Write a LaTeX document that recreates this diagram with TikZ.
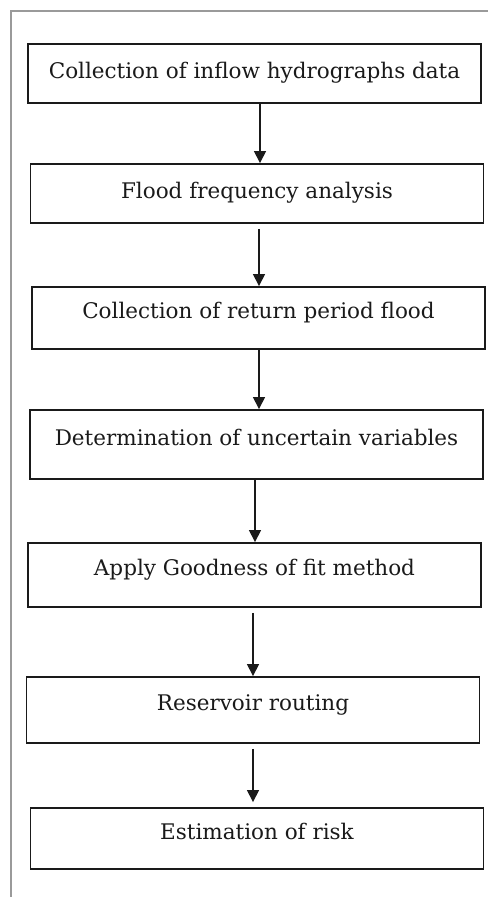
\documentclass[tikz,border=0pt]{standalone}
\usepackage{fontspec}
\setmainfont{DejaVu Serif}
\usetikzlibrary{arrows.meta}
\definecolor{framegray}{HTML}{9A9A9A}
\definecolor{ink}{HTML}{1A1A1A}
\tikzset{
  stepbox/.style={draw=ink, line width=1.9pt, rectangle, inner sep=0pt,
    minimum width=453pt, text=ink, font=\fontsize{21.5}{24}\selectfont,
    text height=14pt, text depth=4pt},
  raised/.style={text depth=13pt},
  flowarrow/.style={draw=ink, line width=1.5pt, -{Triangle[width=12pt,length=12pt]}},
  frameline/.style={draw=framegray, line width=1.6pt}
}
\begin{document}
\begin{tikzpicture}[x=1pt,y=-1pt]
\useasboundingbox (0,0) rectangle (488,897);
\fill[white] (0,0) rectangle (488,897);
\coordinate (fb) at (11,897);
\coordinate (fc) at (11,11);
\coordinate (fr) at (488,11);
\draw[frameline] (fb) -- (fc) -- (fr);

\node[stepbox, minimum height=59pt] (b1) at (254.5,73.5) {Collection of inflow hydrographs data};
\node[stepbox, minimum height=59pt] (b2) at (257,193.5) {Flood frequency analysis};
\node[stepbox, raised, minimum height=62pt] (b3) at (258.5,318) {Collection of return period flood};
\node[stepbox, raised, minimum height=69pt] (b4) at (256.5,444.5) {Determination of uncertain variables};
\node[stepbox, raised, minimum height=64pt] (b5) at (254.5,575) {Apply Goodness of fit method};
\node[stepbox, raised, minimum height=66pt] (b6) at (253,710) {Reservoir routing};
\node[stepbox, raised, minimum height=61pt] (b7) at (257,838.5) {Estimation of risk};

\coordinate (x1) at (260,0);
\coordinate (x2) at (259,0);
\coordinate (x3) at (259,0);
\coordinate (x4) at (255,0);
\coordinate (x5) at (253,0);
\coordinate (x6) at (253,0);

\draw[flowarrow] (b1.south -| x1) -- (b2.north -| x1);
\draw[flowarrow, shorten <=5pt] (b2.south -| x2) -- (b3.north -| x2);
\draw[flowarrow] (b3.south -| x3) -- (b4.north -| x3);
\draw[flowarrow] (b4.south -| x4) -- (b5.north -| x4);
\draw[flowarrow, shorten <=5pt] (b5.south -| x5) -- (b6.north -| x5);
\draw[flowarrow, shorten <=5pt, shorten >=5pt] (b6.south -| x6) -- (b7.north -| x6);
\end{tikzpicture}
\end{document}
